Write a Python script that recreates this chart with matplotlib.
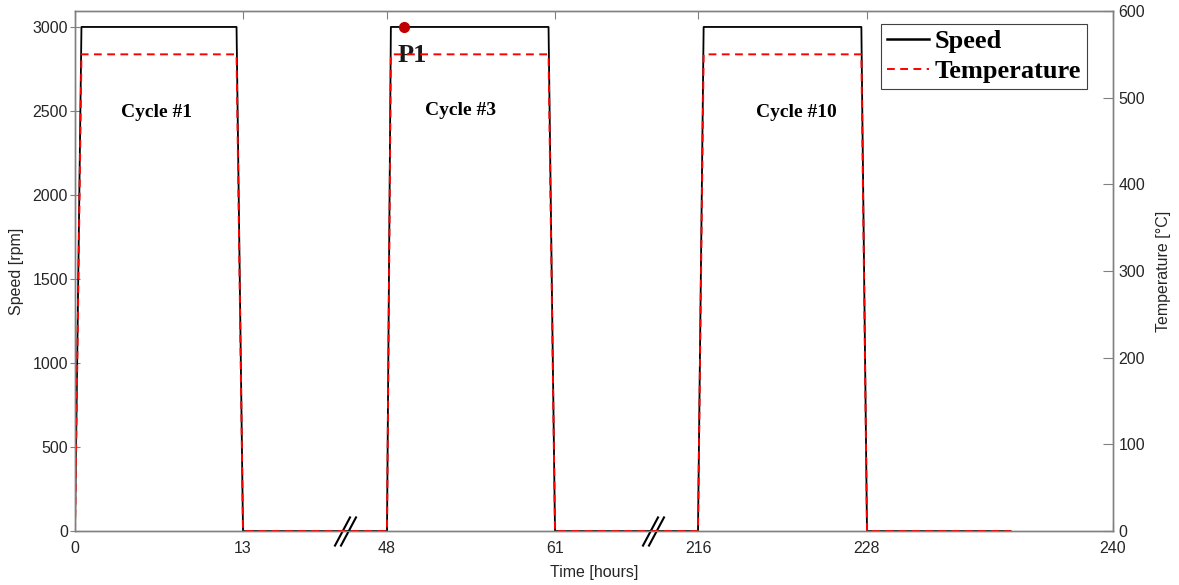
import numpy as np
import matplotlib
matplotlib.use("Agg")
import matplotlib.pyplot as plt
from matplotlib.path import Path

plt.rcParams['font.family'] = ['Liberation Sans', 'DejaVu Sans']

# data (time in hours)
time_h = [0, 0.5, 12.5, 13, 48, 48.3, 60.5, 61, 216, 216.4, 227.6, 228, 235]
speed = [0, 3000, 3000, 0, 0, 3000, 3000, 0, 0, 3000, 3000, 0, 0]
temperature = [0, 550, 550, 0, 0, 550, 550, 0, 0, 550, 550, 0, 0]

tick_hours = [0, 13, 48, 61, 216, 228, 240]
tick_labels = ['0', '13', '48', '61', '216', '228', '240']
# broken axis: where each tick sits along the compressed axis
tick_pos = [0, 168, 312, 480, 623, 792, 1038]
break_hours = [37.8, 167.2]

cycle_names = ['Cycle #1', 'Cycle #3', 'Cycle #10']
cycle_x = [6.3, 53.7, 223.0]
cycle_y = [2490, 2500, 2490]

p1_time = 49.3
p1_speed = 3000


def fwd(x):
    return np.interp(x, tick_hours, tick_pos)


def inv(x):
    return np.interp(x, tick_pos, tick_hours)


gray = '#808080'
txt = '#262626'

fig = plt.figure(figsize=(11.79, 5.85), dpi=100)
ax = fig.add_axes([75 / 1179, 54 / 585, 1038 / 1179, 520 / 585])
ax.set_xscale('function', functions=(fwd, inv))
ax2 = ax.twinx()

l1, = ax.plot(time_h, speed, color='black', lw=1.3, label='Speed')
l2, = ax2.plot(time_h, temperature, color='#ff0000', lw=1.4, ls=(0, (4, 2.8)),
               label='Temperature')

ax.set_xlim(0, 240)
ax.set_ylim(0, 3095)
ax2.set_ylim(0, 600)
ax.set_xticks(tick_hours)
ax.set_xticklabels(tick_labels)
ax.set_yticks([0, 500, 1000, 1500, 2000, 2500, 3000])
ax2.set_yticks([0, 100, 200, 300, 400, 500, 600])

for a in (ax, ax2):
    for s in a.spines.values():
        s.set_color(gray)
        s.set_linewidth(1.0)
ax.tick_params(axis='x', top=True, direction='in', length=6, color=gray,
               labelsize=11.5, labelcolor=txt, pad=7)
ax.tick_params(axis='y', direction='inout', length=7, color=gray,
               labelsize=11.5, labelcolor=txt, pad=1.5)
ax2.tick_params(axis='y', direction='in', length=7, color=gray,
                labelsize=11.5, labelcolor=txt, pad=4)

ax.set_xlabel('Time [hours]', fontsize=11.5, color=txt, labelpad=7)
ax.set_ylabel('Speed [rpm]', fontsize=11.5, color=txt, labelpad=6)
ax2.set_ylabel('Temperature [°C]', fontsize=11.5, color=txt, labelpad=8)

# cycle labels
for name, cx, cy in zip(cycle_names, cycle_x, cycle_y):
    ax.text(cx, cy, name, ha='center', va='center', fontsize=14,
            fontweight='bold', family=['Liberation Serif'], color='black')

# P1 marker
ax.plot(p1_time, p1_speed, 'o', color='#c00000', ms=7, zorder=5)
ax.text(48.85, 2830, 'P1', ha='left', va='center', fontsize=19,
        fontweight='bold', family=['Liberation Serif'], color='#1a1a1a', zorder=6)

# break marks on x axis
brk = Path([(-11, -15), (5, 15), (-5, -15), (11, 15)],
           [Path.MOVETO, Path.LINETO, Path.MOVETO, Path.LINETO])
for b in break_hours:
    ax.plot(b, 0, transform=ax.get_xaxis_transform(), marker=brk, ms=21.6,
            mew=1.5, color='black', clip_on=False, zorder=10)

leg = ax2.legend(handles=[l1, l2], loc='upper right',
                 bbox_to_anchor=((1087 - 75) / 1038, (531 - 24) / 520),
                 borderaxespad=0, fancybox=False, framealpha=1,
                 edgecolor='#404040', handlelength=1.6, handletextpad=0.22,
                 labelspacing=0.25, borderpad=0.22,
                 prop={'family': ['Liberation Serif'], 'weight': 'bold', 'size': 19})
leg.get_frame().set_linewidth(0.8)
leg.get_lines()[0].set_linewidth(1.8)

fig.savefig('out.png', dpi=100)
